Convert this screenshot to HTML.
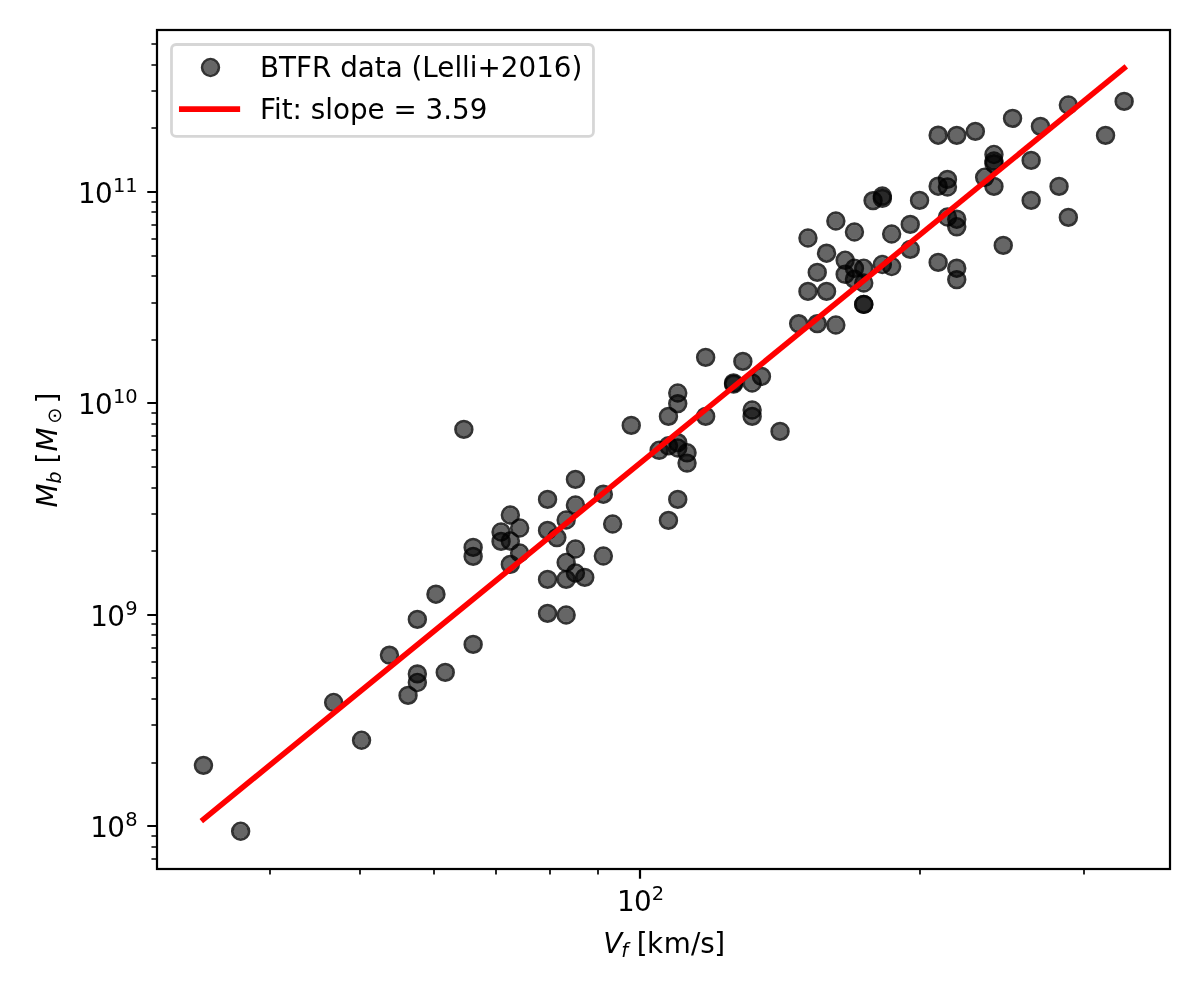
<!DOCTYPE html>
<html><head><meta charset="utf-8"><title>BTFR</title>
<style>html,body{margin:0;padding:0;background:#fff}svg{display:block}text{font-family:"DejaVu Sans","Liberation Sans",sans-serif;fill:#000}</style></head><body>
<svg width="1200" height="1000" viewBox="0 0 1200 1000">
<rect x="0" y="0" width="1200" height="1000" fill="#fff"/>
<defs><clipPath id="c"><rect x="157" y="30" width="1013" height="839"/></clipPath></defs>
<g clip-path="url(#c)">
<circle cx="203.45" cy="765.40" r="7.09" fill="#000" fill-opacity="0.6"/><circle cx="203.45" cy="765.40" r="8.33" fill="none" stroke="#000" stroke-opacity="0.8" stroke-width="2.78"/>
<circle cx="240.65" cy="831.25" r="7.09" fill="#000" fill-opacity="0.6"/><circle cx="240.65" cy="831.25" r="8.33" fill="none" stroke="#000" stroke-opacity="0.8" stroke-width="2.78"/>
<circle cx="333.65" cy="702.50" r="7.09" fill="#000" fill-opacity="0.6"/><circle cx="333.65" cy="702.50" r="8.33" fill="none" stroke="#000" stroke-opacity="0.8" stroke-width="2.78"/>
<circle cx="361.55" cy="740.25" r="7.09" fill="#000" fill-opacity="0.6"/><circle cx="361.55" cy="740.25" r="8.33" fill="none" stroke="#000" stroke-opacity="0.8" stroke-width="2.78"/>
<circle cx="389.45" cy="655.10" r="7.09" fill="#000" fill-opacity="0.6"/><circle cx="389.45" cy="655.10" r="8.33" fill="none" stroke="#000" stroke-opacity="0.8" stroke-width="2.78"/>
<circle cx="408.05" cy="695.40" r="7.09" fill="#000" fill-opacity="0.6"/><circle cx="408.05" cy="695.40" r="8.33" fill="none" stroke="#000" stroke-opacity="0.8" stroke-width="2.78"/>
<circle cx="417.35" cy="682.50" r="7.09" fill="#000" fill-opacity="0.6"/><circle cx="417.35" cy="682.50" r="8.33" fill="none" stroke="#000" stroke-opacity="0.8" stroke-width="2.78"/>
<circle cx="417.35" cy="673.90" r="7.09" fill="#000" fill-opacity="0.6"/><circle cx="417.35" cy="673.90" r="8.33" fill="none" stroke="#000" stroke-opacity="0.8" stroke-width="2.78"/>
<circle cx="445.25" cy="672.40" r="7.09" fill="#000" fill-opacity="0.6"/><circle cx="445.25" cy="672.40" r="8.33" fill="none" stroke="#000" stroke-opacity="0.8" stroke-width="2.78"/>
<circle cx="417.35" cy="619.40" r="7.09" fill="#000" fill-opacity="0.6"/><circle cx="417.35" cy="619.40" r="8.33" fill="none" stroke="#000" stroke-opacity="0.8" stroke-width="2.78"/>
<circle cx="435.95" cy="594.20" r="7.09" fill="#000" fill-opacity="0.6"/><circle cx="435.95" cy="594.20" r="8.33" fill="none" stroke="#000" stroke-opacity="0.8" stroke-width="2.78"/>
<circle cx="473.15" cy="644.40" r="7.09" fill="#000" fill-opacity="0.6"/><circle cx="473.15" cy="644.40" r="8.33" fill="none" stroke="#000" stroke-opacity="0.8" stroke-width="2.78"/>
<circle cx="473.15" cy="556.40" r="7.09" fill="#000" fill-opacity="0.6"/><circle cx="473.15" cy="556.40" r="8.33" fill="none" stroke="#000" stroke-opacity="0.8" stroke-width="2.78"/>
<circle cx="473.15" cy="547.40" r="7.09" fill="#000" fill-opacity="0.6"/><circle cx="473.15" cy="547.40" r="8.33" fill="none" stroke="#000" stroke-opacity="0.8" stroke-width="2.78"/>
<circle cx="510.35" cy="564.40" r="7.09" fill="#000" fill-opacity="0.6"/><circle cx="510.35" cy="564.40" r="8.33" fill="none" stroke="#000" stroke-opacity="0.8" stroke-width="2.78"/>
<circle cx="547.55" cy="579.40" r="7.09" fill="#000" fill-opacity="0.6"/><circle cx="547.55" cy="579.40" r="8.33" fill="none" stroke="#000" stroke-opacity="0.8" stroke-width="2.78"/>
<circle cx="547.55" cy="613.40" r="7.09" fill="#000" fill-opacity="0.6"/><circle cx="547.55" cy="613.40" r="8.33" fill="none" stroke="#000" stroke-opacity="0.8" stroke-width="2.78"/>
<circle cx="566.15" cy="615.00" r="7.09" fill="#000" fill-opacity="0.6"/><circle cx="566.15" cy="615.00" r="8.33" fill="none" stroke="#000" stroke-opacity="0.8" stroke-width="2.78"/>
<circle cx="566.15" cy="579.40" r="7.09" fill="#000" fill-opacity="0.6"/><circle cx="566.15" cy="579.40" r="8.33" fill="none" stroke="#000" stroke-opacity="0.8" stroke-width="2.78"/>
<circle cx="566.15" cy="562.50" r="7.09" fill="#000" fill-opacity="0.6"/><circle cx="566.15" cy="562.50" r="8.33" fill="none" stroke="#000" stroke-opacity="0.8" stroke-width="2.78"/>
<circle cx="575.45" cy="573.00" r="7.09" fill="#000" fill-opacity="0.6"/><circle cx="575.45" cy="573.00" r="8.33" fill="none" stroke="#000" stroke-opacity="0.8" stroke-width="2.78"/>
<circle cx="584.75" cy="577.40" r="7.09" fill="#000" fill-opacity="0.6"/><circle cx="584.75" cy="577.40" r="8.33" fill="none" stroke="#000" stroke-opacity="0.8" stroke-width="2.78"/>
<circle cx="603.35" cy="556.00" r="7.09" fill="#000" fill-opacity="0.6"/><circle cx="603.35" cy="556.00" r="8.33" fill="none" stroke="#000" stroke-opacity="0.8" stroke-width="2.78"/>
<circle cx="463.85" cy="429.40" r="7.09" fill="#000" fill-opacity="0.6"/><circle cx="463.85" cy="429.40" r="8.33" fill="none" stroke="#000" stroke-opacity="0.8" stroke-width="2.78"/>
<circle cx="510.35" cy="515.00" r="7.09" fill="#000" fill-opacity="0.6"/><circle cx="510.35" cy="515.00" r="8.33" fill="none" stroke="#000" stroke-opacity="0.8" stroke-width="2.78"/>
<circle cx="501.05" cy="532.00" r="7.09" fill="#000" fill-opacity="0.6"/><circle cx="501.05" cy="532.00" r="8.33" fill="none" stroke="#000" stroke-opacity="0.8" stroke-width="2.78"/>
<circle cx="501.05" cy="541.40" r="7.09" fill="#000" fill-opacity="0.6"/><circle cx="501.05" cy="541.40" r="8.33" fill="none" stroke="#000" stroke-opacity="0.8" stroke-width="2.78"/>
<circle cx="510.35" cy="541.00" r="7.09" fill="#000" fill-opacity="0.6"/><circle cx="510.35" cy="541.00" r="8.33" fill="none" stroke="#000" stroke-opacity="0.8" stroke-width="2.78"/>
<circle cx="519.65" cy="528.00" r="7.09" fill="#000" fill-opacity="0.6"/><circle cx="519.65" cy="528.00" r="8.33" fill="none" stroke="#000" stroke-opacity="0.8" stroke-width="2.78"/>
<circle cx="519.65" cy="553.00" r="7.09" fill="#000" fill-opacity="0.6"/><circle cx="519.65" cy="553.00" r="8.33" fill="none" stroke="#000" stroke-opacity="0.8" stroke-width="2.78"/>
<circle cx="547.55" cy="499.40" r="7.09" fill="#000" fill-opacity="0.6"/><circle cx="547.55" cy="499.40" r="8.33" fill="none" stroke="#000" stroke-opacity="0.8" stroke-width="2.78"/>
<circle cx="547.55" cy="530.40" r="7.09" fill="#000" fill-opacity="0.6"/><circle cx="547.55" cy="530.40" r="8.33" fill="none" stroke="#000" stroke-opacity="0.8" stroke-width="2.78"/>
<circle cx="556.85" cy="537.60" r="7.09" fill="#000" fill-opacity="0.6"/><circle cx="556.85" cy="537.60" r="8.33" fill="none" stroke="#000" stroke-opacity="0.8" stroke-width="2.78"/>
<circle cx="566.15" cy="520.00" r="7.09" fill="#000" fill-opacity="0.6"/><circle cx="566.15" cy="520.00" r="8.33" fill="none" stroke="#000" stroke-opacity="0.8" stroke-width="2.78"/>
<circle cx="575.45" cy="479.40" r="7.09" fill="#000" fill-opacity="0.6"/><circle cx="575.45" cy="479.40" r="8.33" fill="none" stroke="#000" stroke-opacity="0.8" stroke-width="2.78"/>
<circle cx="575.45" cy="505.00" r="7.09" fill="#000" fill-opacity="0.6"/><circle cx="575.45" cy="505.00" r="8.33" fill="none" stroke="#000" stroke-opacity="0.8" stroke-width="2.78"/>
<circle cx="575.45" cy="549.00" r="7.09" fill="#000" fill-opacity="0.6"/><circle cx="575.45" cy="549.00" r="8.33" fill="none" stroke="#000" stroke-opacity="0.8" stroke-width="2.78"/>
<circle cx="603.35" cy="494.20" r="7.09" fill="#000" fill-opacity="0.6"/><circle cx="603.35" cy="494.20" r="8.33" fill="none" stroke="#000" stroke-opacity="0.8" stroke-width="2.78"/>
<circle cx="612.65" cy="524.00" r="7.09" fill="#000" fill-opacity="0.6"/><circle cx="612.65" cy="524.00" r="8.33" fill="none" stroke="#000" stroke-opacity="0.8" stroke-width="2.78"/>
<circle cx="705.65" cy="357.40" r="7.09" fill="#000" fill-opacity="0.6"/><circle cx="705.65" cy="357.40" r="8.33" fill="none" stroke="#000" stroke-opacity="0.8" stroke-width="2.78"/>
<circle cx="742.85" cy="361.40" r="7.09" fill="#000" fill-opacity="0.6"/><circle cx="742.85" cy="361.40" r="8.33" fill="none" stroke="#000" stroke-opacity="0.8" stroke-width="2.78"/>
<circle cx="761.45" cy="376.40" r="7.09" fill="#000" fill-opacity="0.6"/><circle cx="761.45" cy="376.40" r="8.33" fill="none" stroke="#000" stroke-opacity="0.8" stroke-width="2.78"/>
<circle cx="752.15" cy="383.00" r="7.09" fill="#000" fill-opacity="0.6"/><circle cx="752.15" cy="383.00" r="8.33" fill="none" stroke="#000" stroke-opacity="0.8" stroke-width="2.78"/>
<circle cx="733.55" cy="382.90" r="7.09" fill="#000" fill-opacity="0.6"/><circle cx="733.55" cy="382.90" r="8.33" fill="none" stroke="#000" stroke-opacity="0.8" stroke-width="2.78"/>
<circle cx="733.55" cy="384.10" r="7.09" fill="#000" fill-opacity="0.6"/><circle cx="733.55" cy="384.10" r="8.33" fill="none" stroke="#000" stroke-opacity="0.8" stroke-width="2.78"/>
<circle cx="677.75" cy="393.00" r="7.09" fill="#000" fill-opacity="0.6"/><circle cx="677.75" cy="393.00" r="8.33" fill="none" stroke="#000" stroke-opacity="0.8" stroke-width="2.78"/>
<circle cx="677.75" cy="403.60" r="7.09" fill="#000" fill-opacity="0.6"/><circle cx="677.75" cy="403.60" r="8.33" fill="none" stroke="#000" stroke-opacity="0.8" stroke-width="2.78"/>
<circle cx="668.45" cy="416.40" r="7.09" fill="#000" fill-opacity="0.6"/><circle cx="668.45" cy="416.40" r="8.33" fill="none" stroke="#000" stroke-opacity="0.8" stroke-width="2.78"/>
<circle cx="705.65" cy="416.40" r="7.09" fill="#000" fill-opacity="0.6"/><circle cx="705.65" cy="416.40" r="8.33" fill="none" stroke="#000" stroke-opacity="0.8" stroke-width="2.78"/>
<circle cx="631.25" cy="425.40" r="7.09" fill="#000" fill-opacity="0.6"/><circle cx="631.25" cy="425.40" r="8.33" fill="none" stroke="#000" stroke-opacity="0.8" stroke-width="2.78"/>
<circle cx="752.15" cy="410.00" r="7.09" fill="#000" fill-opacity="0.6"/><circle cx="752.15" cy="410.00" r="8.33" fill="none" stroke="#000" stroke-opacity="0.8" stroke-width="2.78"/>
<circle cx="752.15" cy="416.40" r="7.09" fill="#000" fill-opacity="0.6"/><circle cx="752.15" cy="416.40" r="8.33" fill="none" stroke="#000" stroke-opacity="0.8" stroke-width="2.78"/>
<circle cx="780.05" cy="431.40" r="7.09" fill="#000" fill-opacity="0.6"/><circle cx="780.05" cy="431.40" r="8.33" fill="none" stroke="#000" stroke-opacity="0.8" stroke-width="2.78"/>
<circle cx="659.15" cy="450.30" r="7.09" fill="#000" fill-opacity="0.6"/><circle cx="659.15" cy="450.30" r="8.33" fill="none" stroke="#000" stroke-opacity="0.8" stroke-width="2.78"/>
<circle cx="668.45" cy="445.80" r="7.09" fill="#000" fill-opacity="0.6"/><circle cx="668.45" cy="445.80" r="8.33" fill="none" stroke="#000" stroke-opacity="0.8" stroke-width="2.78"/>
<circle cx="677.75" cy="442.60" r="7.09" fill="#000" fill-opacity="0.6"/><circle cx="677.75" cy="442.60" r="8.33" fill="none" stroke="#000" stroke-opacity="0.8" stroke-width="2.78"/>
<circle cx="677.75" cy="448.00" r="7.09" fill="#000" fill-opacity="0.6"/><circle cx="677.75" cy="448.00" r="8.33" fill="none" stroke="#000" stroke-opacity="0.8" stroke-width="2.78"/>
<circle cx="687.05" cy="452.80" r="7.09" fill="#000" fill-opacity="0.6"/><circle cx="687.05" cy="452.80" r="8.33" fill="none" stroke="#000" stroke-opacity="0.8" stroke-width="2.78"/>
<circle cx="687.05" cy="463.10" r="7.09" fill="#000" fill-opacity="0.6"/><circle cx="687.05" cy="463.10" r="8.33" fill="none" stroke="#000" stroke-opacity="0.8" stroke-width="2.78"/>
<circle cx="677.75" cy="499.40" r="7.09" fill="#000" fill-opacity="0.6"/><circle cx="677.75" cy="499.40" r="8.33" fill="none" stroke="#000" stroke-opacity="0.8" stroke-width="2.78"/>
<circle cx="668.45" cy="520.40" r="7.09" fill="#000" fill-opacity="0.6"/><circle cx="668.45" cy="520.40" r="8.33" fill="none" stroke="#000" stroke-opacity="0.8" stroke-width="2.78"/>
<circle cx="798.65" cy="323.60" r="7.09" fill="#000" fill-opacity="0.6"/><circle cx="798.65" cy="323.60" r="8.33" fill="none" stroke="#000" stroke-opacity="0.8" stroke-width="2.78"/>
<circle cx="817.25" cy="323.60" r="7.09" fill="#000" fill-opacity="0.6"/><circle cx="817.25" cy="323.60" r="8.33" fill="none" stroke="#000" stroke-opacity="0.8" stroke-width="2.78"/>
<circle cx="835.85" cy="325.00" r="7.09" fill="#000" fill-opacity="0.6"/><circle cx="835.85" cy="325.00" r="8.33" fill="none" stroke="#000" stroke-opacity="0.8" stroke-width="2.78"/>
<circle cx="807.95" cy="291.40" r="7.09" fill="#000" fill-opacity="0.6"/><circle cx="807.95" cy="291.40" r="8.33" fill="none" stroke="#000" stroke-opacity="0.8" stroke-width="2.78"/>
<circle cx="826.55" cy="291.40" r="7.09" fill="#000" fill-opacity="0.6"/><circle cx="826.55" cy="291.40" r="8.33" fill="none" stroke="#000" stroke-opacity="0.8" stroke-width="2.78"/>
<circle cx="817.25" cy="272.40" r="7.09" fill="#000" fill-opacity="0.6"/><circle cx="817.25" cy="272.40" r="8.33" fill="none" stroke="#000" stroke-opacity="0.8" stroke-width="2.78"/>
<circle cx="807.95" cy="238.00" r="7.09" fill="#000" fill-opacity="0.6"/><circle cx="807.95" cy="238.00" r="8.33" fill="none" stroke="#000" stroke-opacity="0.8" stroke-width="2.78"/>
<circle cx="826.55" cy="253.20" r="7.09" fill="#000" fill-opacity="0.6"/><circle cx="826.55" cy="253.20" r="8.33" fill="none" stroke="#000" stroke-opacity="0.8" stroke-width="2.78"/>
<circle cx="835.85" cy="221.00" r="7.09" fill="#000" fill-opacity="0.6"/><circle cx="835.85" cy="221.00" r="8.33" fill="none" stroke="#000" stroke-opacity="0.8" stroke-width="2.78"/>
<circle cx="854.45" cy="232.00" r="7.09" fill="#000" fill-opacity="0.6"/><circle cx="854.45" cy="232.00" r="8.33" fill="none" stroke="#000" stroke-opacity="0.8" stroke-width="2.78"/>
<circle cx="845.15" cy="260.30" r="7.09" fill="#000" fill-opacity="0.6"/><circle cx="845.15" cy="260.30" r="8.33" fill="none" stroke="#000" stroke-opacity="0.8" stroke-width="2.78"/>
<circle cx="845.15" cy="274.30" r="7.09" fill="#000" fill-opacity="0.6"/><circle cx="845.15" cy="274.30" r="8.33" fill="none" stroke="#000" stroke-opacity="0.8" stroke-width="2.78"/>
<circle cx="854.45" cy="268.30" r="7.09" fill="#000" fill-opacity="0.6"/><circle cx="854.45" cy="268.30" r="8.33" fill="none" stroke="#000" stroke-opacity="0.8" stroke-width="2.78"/>
<circle cx="863.75" cy="268.30" r="7.09" fill="#000" fill-opacity="0.6"/><circle cx="863.75" cy="268.30" r="8.33" fill="none" stroke="#000" stroke-opacity="0.8" stroke-width="2.78"/>
<circle cx="854.45" cy="279.20" r="7.09" fill="#000" fill-opacity="0.6"/><circle cx="854.45" cy="279.20" r="8.33" fill="none" stroke="#000" stroke-opacity="0.8" stroke-width="2.78"/>
<circle cx="863.75" cy="283.00" r="7.09" fill="#000" fill-opacity="0.6"/><circle cx="863.75" cy="283.00" r="8.33" fill="none" stroke="#000" stroke-opacity="0.8" stroke-width="2.78"/>
<circle cx="863.75" cy="304.40" r="7.09" fill="#000" fill-opacity="0.6"/><circle cx="863.75" cy="304.40" r="8.33" fill="none" stroke="#000" stroke-opacity="0.8" stroke-width="2.78"/>
<circle cx="863.75" cy="304.40" r="7.09" fill="#000" fill-opacity="0.6"/><circle cx="863.75" cy="304.40" r="8.33" fill="none" stroke="#000" stroke-opacity="0.8" stroke-width="2.78"/>
<circle cx="873.05" cy="200.60" r="7.09" fill="#000" fill-opacity="0.6"/><circle cx="873.05" cy="200.60" r="8.33" fill="none" stroke="#000" stroke-opacity="0.8" stroke-width="2.78"/>
<circle cx="882.35" cy="196.00" r="7.09" fill="#000" fill-opacity="0.6"/><circle cx="882.35" cy="196.00" r="8.33" fill="none" stroke="#000" stroke-opacity="0.8" stroke-width="2.78"/>
<circle cx="882.35" cy="198.40" r="7.09" fill="#000" fill-opacity="0.6"/><circle cx="882.35" cy="198.40" r="8.33" fill="none" stroke="#000" stroke-opacity="0.8" stroke-width="2.78"/>
<circle cx="882.35" cy="264.50" r="7.09" fill="#000" fill-opacity="0.6"/><circle cx="882.35" cy="264.50" r="8.33" fill="none" stroke="#000" stroke-opacity="0.8" stroke-width="2.78"/>
<circle cx="891.65" cy="266.50" r="7.09" fill="#000" fill-opacity="0.6"/><circle cx="891.65" cy="266.50" r="8.33" fill="none" stroke="#000" stroke-opacity="0.8" stroke-width="2.78"/>
<circle cx="891.65" cy="234.00" r="7.09" fill="#000" fill-opacity="0.6"/><circle cx="891.65" cy="234.00" r="8.33" fill="none" stroke="#000" stroke-opacity="0.8" stroke-width="2.78"/>
<circle cx="910.25" cy="224.40" r="7.09" fill="#000" fill-opacity="0.6"/><circle cx="910.25" cy="224.40" r="8.33" fill="none" stroke="#000" stroke-opacity="0.8" stroke-width="2.78"/>
<circle cx="910.25" cy="249.40" r="7.09" fill="#000" fill-opacity="0.6"/><circle cx="910.25" cy="249.40" r="8.33" fill="none" stroke="#000" stroke-opacity="0.8" stroke-width="2.78"/>
<circle cx="919.55" cy="200.40" r="7.09" fill="#000" fill-opacity="0.6"/><circle cx="919.55" cy="200.40" r="8.33" fill="none" stroke="#000" stroke-opacity="0.8" stroke-width="2.78"/>
<circle cx="938.15" cy="186.20" r="7.09" fill="#000" fill-opacity="0.6"/><circle cx="938.15" cy="186.20" r="8.33" fill="none" stroke="#000" stroke-opacity="0.8" stroke-width="2.78"/>
<circle cx="947.45" cy="179.40" r="7.09" fill="#000" fill-opacity="0.6"/><circle cx="947.45" cy="179.40" r="8.33" fill="none" stroke="#000" stroke-opacity="0.8" stroke-width="2.78"/>
<circle cx="947.45" cy="187.00" r="7.09" fill="#000" fill-opacity="0.6"/><circle cx="947.45" cy="187.00" r="8.33" fill="none" stroke="#000" stroke-opacity="0.8" stroke-width="2.78"/>
<circle cx="947.45" cy="217.00" r="7.09" fill="#000" fill-opacity="0.6"/><circle cx="947.45" cy="217.00" r="8.33" fill="none" stroke="#000" stroke-opacity="0.8" stroke-width="2.78"/>
<circle cx="956.75" cy="219.20" r="7.09" fill="#000" fill-opacity="0.6"/><circle cx="956.75" cy="219.20" r="8.33" fill="none" stroke="#000" stroke-opacity="0.8" stroke-width="2.78"/>
<circle cx="956.75" cy="226.80" r="7.09" fill="#000" fill-opacity="0.6"/><circle cx="956.75" cy="226.80" r="8.33" fill="none" stroke="#000" stroke-opacity="0.8" stroke-width="2.78"/>
<circle cx="938.15" cy="262.40" r="7.09" fill="#000" fill-opacity="0.6"/><circle cx="938.15" cy="262.40" r="8.33" fill="none" stroke="#000" stroke-opacity="0.8" stroke-width="2.78"/>
<circle cx="956.75" cy="268.20" r="7.09" fill="#000" fill-opacity="0.6"/><circle cx="956.75" cy="268.20" r="8.33" fill="none" stroke="#000" stroke-opacity="0.8" stroke-width="2.78"/>
<circle cx="956.75" cy="279.60" r="7.09" fill="#000" fill-opacity="0.6"/><circle cx="956.75" cy="279.60" r="8.33" fill="none" stroke="#000" stroke-opacity="0.8" stroke-width="2.78"/>
<circle cx="984.65" cy="177.30" r="7.09" fill="#000" fill-opacity="0.6"/><circle cx="984.65" cy="177.30" r="8.33" fill="none" stroke="#000" stroke-opacity="0.8" stroke-width="2.78"/>
<circle cx="993.95" cy="186.40" r="7.09" fill="#000" fill-opacity="0.6"/><circle cx="993.95" cy="186.40" r="8.33" fill="none" stroke="#000" stroke-opacity="0.8" stroke-width="2.78"/>
<circle cx="993.95" cy="154.50" r="7.09" fill="#000" fill-opacity="0.6"/><circle cx="993.95" cy="154.50" r="8.33" fill="none" stroke="#000" stroke-opacity="0.8" stroke-width="2.78"/>
<circle cx="993.95" cy="161.00" r="7.09" fill="#000" fill-opacity="0.6"/><circle cx="993.95" cy="161.00" r="8.33" fill="none" stroke="#000" stroke-opacity="0.8" stroke-width="2.78"/>
<circle cx="993.95" cy="163.60" r="7.09" fill="#000" fill-opacity="0.6"/><circle cx="993.95" cy="163.60" r="8.33" fill="none" stroke="#000" stroke-opacity="0.8" stroke-width="2.78"/>
<circle cx="1003.25" cy="245.40" r="7.09" fill="#000" fill-opacity="0.6"/><circle cx="1003.25" cy="245.40" r="8.33" fill="none" stroke="#000" stroke-opacity="0.8" stroke-width="2.78"/>
<circle cx="938.15" cy="135.20" r="7.09" fill="#000" fill-opacity="0.6"/><circle cx="938.15" cy="135.20" r="8.33" fill="none" stroke="#000" stroke-opacity="0.8" stroke-width="2.78"/>
<circle cx="956.75" cy="135.40" r="7.09" fill="#000" fill-opacity="0.6"/><circle cx="956.75" cy="135.40" r="8.33" fill="none" stroke="#000" stroke-opacity="0.8" stroke-width="2.78"/>
<circle cx="975.35" cy="131.40" r="7.09" fill="#000" fill-opacity="0.6"/><circle cx="975.35" cy="131.40" r="8.33" fill="none" stroke="#000" stroke-opacity="0.8" stroke-width="2.78"/>
<circle cx="1012.55" cy="118.40" r="7.09" fill="#000" fill-opacity="0.6"/><circle cx="1012.55" cy="118.40" r="8.33" fill="none" stroke="#000" stroke-opacity="0.8" stroke-width="2.78"/>
<circle cx="1040.45" cy="126.40" r="7.09" fill="#000" fill-opacity="0.6"/><circle cx="1040.45" cy="126.40" r="8.33" fill="none" stroke="#000" stroke-opacity="0.8" stroke-width="2.78"/>
<circle cx="1068.35" cy="105.00" r="7.09" fill="#000" fill-opacity="0.6"/><circle cx="1068.35" cy="105.00" r="8.33" fill="none" stroke="#000" stroke-opacity="0.8" stroke-width="2.78"/>
<circle cx="1124.15" cy="101.40" r="7.09" fill="#000" fill-opacity="0.6"/><circle cx="1124.15" cy="101.40" r="8.33" fill="none" stroke="#000" stroke-opacity="0.8" stroke-width="2.78"/>
<circle cx="1105.55" cy="135.40" r="7.09" fill="#000" fill-opacity="0.6"/><circle cx="1105.55" cy="135.40" r="8.33" fill="none" stroke="#000" stroke-opacity="0.8" stroke-width="2.78"/>
<circle cx="1031.15" cy="160.40" r="7.09" fill="#000" fill-opacity="0.6"/><circle cx="1031.15" cy="160.40" r="8.33" fill="none" stroke="#000" stroke-opacity="0.8" stroke-width="2.78"/>
<circle cx="1059.05" cy="186.40" r="7.09" fill="#000" fill-opacity="0.6"/><circle cx="1059.05" cy="186.40" r="8.33" fill="none" stroke="#000" stroke-opacity="0.8" stroke-width="2.78"/>
<circle cx="1031.15" cy="200.40" r="7.09" fill="#000" fill-opacity="0.6"/><circle cx="1031.15" cy="200.40" r="8.33" fill="none" stroke="#000" stroke-opacity="0.8" stroke-width="2.78"/>
<circle cx="1068.35" cy="217.40" r="7.09" fill="#000" fill-opacity="0.6"/><circle cx="1068.35" cy="217.40" r="8.33" fill="none" stroke="#000" stroke-opacity="0.8" stroke-width="2.78"/>
<path d="M203.45 819.30 L1124.15 68.15" stroke="#f00" stroke-width="5.56" stroke-linecap="square" fill="none"/>
</g>
<path d="M157 826 h-9.72M157 615 h-9.72M157 403 h-9.72M157 192 h-9.72" stroke="#000" stroke-width="2.22" fill="none"/>
<path d="M157 859 h-5.56M157 847 h-5.56M157 836 h-5.56M157 763 h-5.56M157 725 h-5.56M157 699 h-5.56M157 678 h-5.56M157 662 h-5.56M157 648 h-5.56M157 635 h-5.56M157 624 h-5.56M157 551 h-5.56M157 514 h-5.56M157 488 h-5.56M157 467 h-5.56M157 450 h-5.56M157 436 h-5.56M157 424 h-5.56M157 413 h-5.56M157 340 h-5.56M157 303 h-5.56M157 276 h-5.56M157 256 h-5.56M157 239 h-5.56M157 225 h-5.56M157 212 h-5.56M157 202 h-5.56M157 128 h-5.56M157 91 h-5.56M157 65 h-5.56M157 44 h-5.56" stroke="#000" stroke-width="1.67" fill="none"/>
<path d="M640 869 v9.72" stroke="#000" stroke-width="2.22" fill="none"/>
<path d="M270 869 v5.56M360 869 v5.56M434 869 v5.56M496 869 v5.56M550 869 v5.56M598 869 v5.56M920 869 v5.56M1084 869 v5.56" stroke="#000" stroke-width="1.67" fill="none"/>
<rect x="157" y="30" width="1013" height="839" fill="none" stroke="#000" stroke-width="2.22" stroke-linejoin="miter"/>
<text x="90.32 107.37" y="836.90" font-size="27.78">10<tspan x="125.26" y="826.27" font-size="19.44">8</tspan></text>
<text x="90.32 107.37" y="625.90" font-size="27.78">10<tspan x="125.26" y="615.27" font-size="19.44">9</tspan></text>
<text x="77.95 95.00" y="413.90" font-size="27.78">10<tspan x="112.89" y="403.27" font-size="19.44">10</tspan></text>
<text x="77.95 95.00" y="202.90" font-size="27.78">10<tspan x="112.89" y="192.27" font-size="19.44">11</tspan></text>
<text x="616.90 633.95" y="911.00" font-size="27.78">10<tspan x="651.84" y="900.37" font-size="19.44">2</tspan></text>
<text y="952.90" font-size="27.78"><tspan x="603.15" font-style="oblique">V</tspan><tspan x="621.2" y="957.46" font-size="19.44" font-style="oblique">f</tspan><tspan x="627.9 636.7 647.0 663.85 690.9 700.3 714.35" y="952.90"> [km/s]</tspan></text>
<g transform="translate(57.00 507.60) rotate(-90)"><text y="0" font-size="27.78"><tspan x="0" font-style="oblique">M</tspan><tspan x="23.97" y="3.75" font-size="19.44" font-style="oblique">b</tspan><tspan x="35.2 44.0" y="0"> [</tspan><tspan x="56.1" y="0" font-style="oblique">M</tspan><tspan x="83.85" y="3.6" font-size="19.44">⊙</tspan><tspan x="104.2" y="0">]</tspan></text></g>
<rect x="171.5" y="44.5" width="421.95" height="91.9" rx="4.6" ry="4.6" fill="#fff" fill-opacity="0.8" stroke="#ccc" stroke-opacity="0.8" stroke-width="2.78"/>
<circle cx="210.50" cy="67.50" r="7.09" fill="#000" fill-opacity="0.6"/><circle cx="210.50" cy="67.50" r="8.33" fill="none" stroke="#000" stroke-opacity="0.8" stroke-width="2.78"/>
<path d="M181.75 109.1 H237.35" stroke="#f00" stroke-width="5.56" stroke-linecap="square" fill="none"/>
<text x="260.05" y="76.5" font-size="27.78">BTFR data (Lelli+2016)</text>
<text x="260.05" y="119.3" font-size="27.78">Fit: slope = 3.59</text>
</svg></body></html>
